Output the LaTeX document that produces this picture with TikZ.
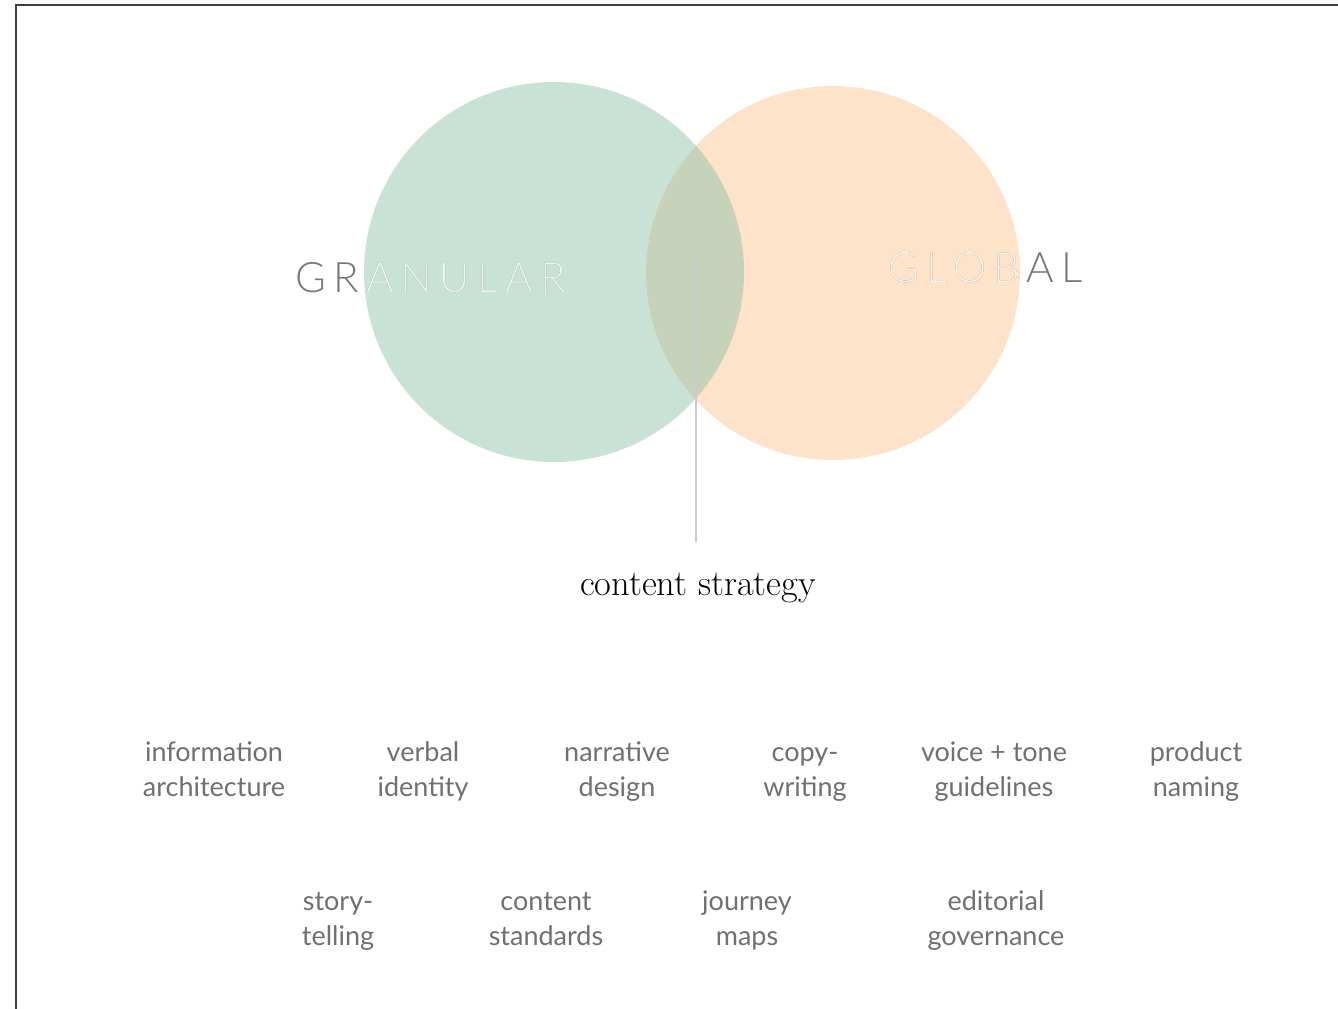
\documentclass[tikz,border=0pt]{standalone}
\usepackage{fontspec}
\setmainfont{Lato}
\newfontfamily\thinfont[LetterSpace=17]{Lato Light}
\newfontfamily\serifcs{Latin Modern Roman}
\usetikzlibrary{positioning}

\definecolor{mint}{HTML}{C9E2D6}
\definecolor{peach}{HTML}{FCE3C9}
\definecolor{blend}{HTML}{C7D2BB}
\definecolor{wordgray}{HTML}{707070}
\definecolor{capsgray}{HTML}{787878}
\definecolor{mintwhite}{HTML}{E8F8F0}
\definecolor{peachwhite}{HTML}{FFF4E8}

\begin{document}
\begin{tikzpicture}[
  x=0.5pt, y=-0.5pt,
  topic/.style={align=center, anchor=base, text=wordgray, font=\fontsize{13.5}{17.5}\selectfont},
  bigcaps/.style={inner sep=0pt, anchor=base west, font=\thinfont\fontsize{21}{21}\selectfont},
  frameline/.style={draw=black!75, line width=1pt}
]
\useasboundingbox (0,0) rectangle (1338,1008);

\draw[frameline] (16,1012) -- (16,5) -- (1342,5);

% the two circles and their overlap
\fill[mint] (554,272) circle (95pt);
\fill[peach] (833,273) circle (93.5pt);
\begin{scope}
  \clip (554,272) circle (95pt);
  \fill[blend] (833,273) circle (93.5pt);
\end{scope}

\node[bigcaps, text=capsgray] (granular) at (295,292) {GRANULAR};
\begin{scope}
  \clip (554,272) circle (95pt);
  \node[bigcaps, text=mintwhite] (granularin) at (295,292) {GRANULAR};
\end{scope}

\node[bigcaps, text=capsgray] (global) at (888,282) {GLOBAL};
\begin{scope}
  \clip (833,273) circle (93.5pt);
  \node[bigcaps, text=peachwhite] (globalin) at (888,282) {GLOBAL};
\end{scope}

\coordinate (linetop) at (696,258);
\coordinate (linebot) at (696,542);
\draw[black!20, line width=0.6pt] (linetop) -- (linebot);

\node[anchor=base, inner sep=0pt, font=\serifcs\fontsize{18.2}{18.2}\selectfont] (strategy) at (698,595) {content strategy};

% first row
\node[topic] (ia) at (214,796) {information\\architecture};
\node[topic] (verbal) at (423,796) {verbal\\identity};
\node[topic] (narrative) at (617,796) {narrative\\design};
\node[topic] (copy) at (805,796) {copy-\\writing};
\node[topic] (voice) at (994,796) {voice + tone\\guidelines};
\node[topic] (naming) at (1196,796) {product\\naming};

% second row
\node[topic] (story) at (338,945) {story-\\telling};
\node[topic] (standards) at (546,945) {content\\standards};
\node[topic] (journey) at (747,945) {journey\\maps};
\node[topic] (editorial) at (996,945) {editorial\\governance};

\end{tikzpicture}
\end{document}
